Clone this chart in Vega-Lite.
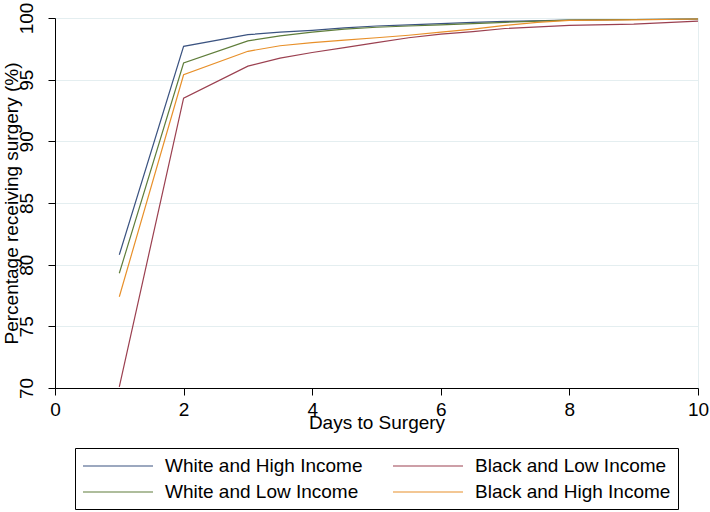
{
  "$schema": "https://vega.github.io/schema/vega-lite/v6.json",
  "width": 643,
  "height": 370,
  "autosize": {"type": "none"},
  "padding": {"left": 55, "top": 18, "right": 12, "bottom": 124},
  "background": "white",
  "config": {
    "font": "Liberation Sans",
    "view": {"stroke": "#e4eef0", "strokeWidth": 1}
  },
  "data": {
    "values": [
      {"day": 1, "group": "White and High Income", "pct": 80.8},
      {"day": 2, "group": "White and High Income", "pct": 97.7},
      {"day": 3, "group": "White and High Income", "pct": 98.65},
      {"day": 3.5, "group": "White and High Income", "pct": 98.85},
      {"day": 4, "group": "White and High Income", "pct": 99.0},
      {"day": 4.5, "group": "White and High Income", "pct": 99.2},
      {"day": 5, "group": "White and High Income", "pct": 99.35},
      {"day": 5.5, "group": "White and High Income", "pct": 99.45},
      {"day": 6, "group": "White and High Income", "pct": 99.55},
      {"day": 6.5, "group": "White and High Income", "pct": 99.65},
      {"day": 7, "group": "White and High Income", "pct": 99.72},
      {"day": 8, "group": "White and High Income", "pct": 99.82},
      {"day": 9, "group": "White and High Income", "pct": 99.88},
      {"day": 10, "group": "White and High Income", "pct": 99.92},
      {"day": 1, "group": "White and Low Income", "pct": 79.3},
      {"day": 2, "group": "White and Low Income", "pct": 96.35},
      {"day": 3, "group": "White and Low Income", "pct": 98.15},
      {"day": 3.5, "group": "White and Low Income", "pct": 98.55},
      {"day": 4, "group": "White and Low Income", "pct": 98.85},
      {"day": 4.5, "group": "White and Low Income", "pct": 99.1},
      {"day": 5, "group": "White and Low Income", "pct": 99.25},
      {"day": 5.5, "group": "White and Low Income", "pct": 99.35},
      {"day": 6, "group": "White and Low Income", "pct": 99.45},
      {"day": 6.5, "group": "White and Low Income", "pct": 99.55},
      {"day": 7, "group": "White and Low Income", "pct": 99.65},
      {"day": 8, "group": "White and Low Income", "pct": 99.82},
      {"day": 9, "group": "White and Low Income", "pct": 99.88},
      {"day": 10, "group": "White and Low Income", "pct": 99.92},
      {"day": 1, "group": "Black and High Income", "pct": 77.4},
      {"day": 2, "group": "Black and High Income", "pct": 95.4},
      {"day": 3, "group": "Black and High Income", "pct": 97.3},
      {"day": 3.5, "group": "Black and High Income", "pct": 97.75},
      {"day": 4, "group": "Black and High Income", "pct": 98.0},
      {"day": 4.5, "group": "Black and High Income", "pct": 98.2},
      {"day": 5, "group": "Black and High Income", "pct": 98.4},
      {"day": 5.5, "group": "Black and High Income", "pct": 98.6},
      {"day": 6, "group": "Black and High Income", "pct": 98.85},
      {"day": 6.5, "group": "Black and High Income", "pct": 99.1},
      {"day": 7, "group": "Black and High Income", "pct": 99.4},
      {"day": 7.5, "group": "Black and High Income", "pct": 99.65},
      {"day": 8, "group": "Black and High Income", "pct": 99.8},
      {"day": 9, "group": "Black and High Income", "pct": 99.85},
      {"day": 10, "group": "Black and High Income", "pct": 99.92},
      {"day": 1, "group": "Black and Low Income", "pct": 70.1},
      {"day": 2, "group": "Black and Low Income", "pct": 93.5},
      {"day": 3, "group": "Black and Low Income", "pct": 96.1},
      {"day": 3.5, "group": "Black and Low Income", "pct": 96.75},
      {"day": 4, "group": "Black and Low Income", "pct": 97.2},
      {"day": 4.5, "group": "Black and Low Income", "pct": 97.6},
      {"day": 5, "group": "Black and Low Income", "pct": 98.0},
      {"day": 5.5, "group": "Black and Low Income", "pct": 98.4},
      {"day": 6, "group": "Black and Low Income", "pct": 98.7},
      {"day": 6.5, "group": "Black and Low Income", "pct": 98.9},
      {"day": 7, "group": "Black and Low Income", "pct": 99.15},
      {"day": 8, "group": "Black and Low Income", "pct": 99.4},
      {"day": 9, "group": "Black and Low Income", "pct": 99.5},
      {"day": 10, "group": "Black and Low Income", "pct": 99.75}
    ]
  },
  "mark": {"type": "line", "strokeWidth": 1.2, "interpolate": "linear"},
  "encoding": {
    "x": {
      "field": "day",
      "type": "quantitative",
      "scale": {"domain": [0, 10], "nice": false, "zero": false},
      "axis": {
        "title": "Days to Surgery",
        "values": [0, 2, 4, 6, 8, 10],
        "grid": false,
        "domainColor": "black",
        "tickColor": "black",
        "tickSize": 7,
        "labelFontSize": 19,
        "labelColor": "black",
        "labelPadding": 5,
        "labelFlush": false,
        "titleFontSize": 19,
        "titleFontWeight": "normal",
        "titleColor": "black",
        "titlePadding": -6
      }
    },
    "y": {
      "field": "pct",
      "type": "quantitative",
      "scale": {"domain": [70, 100], "nice": false, "zero": false},
      "axis": {
        "title": "Percentage receiving surgery (%)",
        "values": [70, 75, 80, 85, 90, 95, 100],
        "grid": true,
        "gridColor": "#e4eef0",
        "gridWidth": 1,
        "domainColor": "black",
        "tickColor": "black",
        "tickSize": 7,
        "labelAngle": -90,
        "labelFontSize": 19,
        "labelColor": "black",
        "labelPadding": 12,
        "labelFlush": false,
        "titleFontSize": 19,
        "titleFontWeight": "normal",
        "titleColor": "black",
        "titleX": -44,
        "titleY": 185,
        "titleBaseline": "middle",
        "titleAnchor": "middle"
      }
    },
    "color": {
      "field": "group",
      "type": "nominal",
      "scale": {
        "domain": ["White and High Income", "Black and Low Income", "White and Low Income", "Black and High Income"],
        "range": ["#3b5380", "#9b4050", "#5f7d3a", "#e8902a"]
      },
      "legend": {
        "title": null,
        "orient": "none",
        "legendX": 20,
        "legendY": 430,
        "direction": "horizontal",
        "columns": 2,
        "symbolType": "M-3.5,0H3.5",
        "symbolSize": 400,
        "symbolOffset": 25,
        "symbolStrokeWidth": 1.2,
        "symbolFillColor": "transparent",
        "labelFontSize": 19,
        "labelColor": "black",
        "labelOffset": 36,
        "labelLimit": 0,
        "columnPadding": 27,
        "rowPadding": 5,
        "padding": 7,
        "strokeColor": "black",
        "fillColor": "white"
      }
    }
  }
}
